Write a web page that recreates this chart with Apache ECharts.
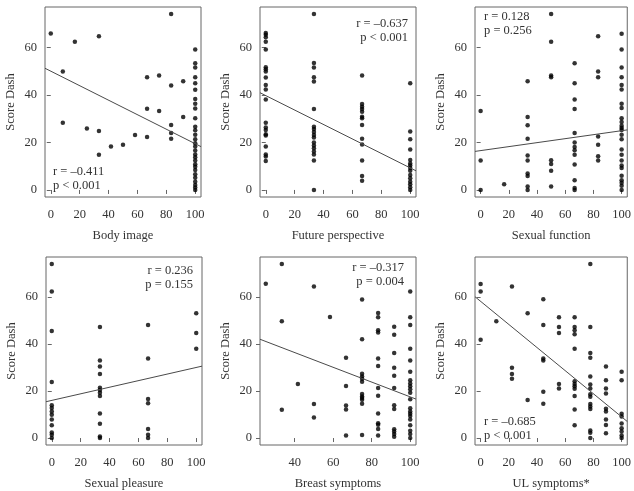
<!DOCTYPE html>
<html>
<head>
<meta charset="utf-8">
<script src="https://cdn.jsdelivr.net/npm/echarts@6/dist/echarts.min.js"></script>
<style>
  html, body { margin: 0; padding: 0; background: #fff; }
  #chart { width: 634px; height: 491px; }
</style>
</head>
<body>
<div id="chart"></div>
<script>
// columns of points: [x, [y values]]
var bodyImage = [
  [0, [66]], [8.33, [50, 28.4]], [16.67, [62.5]], [25, [25.9]],
  [33.33, [64.8, 24.9, 14.9]], [41.67, [18.3]], [50, [19.1]], [58.33, [23.2]],
  [66.67, [47.5, 34.3, 22.3]], [75, [48.3, 33.3]],
  [83.33, [74.2, 44.1, 27.4, 24.0, 21.6]], [91.67, [45.9, 30.8]],
  [100, [59.2, 53.4, 51.6, 47.5, 45, 42.3, 38.4, 36.4, 34.4, 30.2, 26.7, 25.2, 23.3, 21.4, 19.7, 18.3, 16.6, 15.0, 13.8, 12.4, 10.8, 9.8, 8.4, 6.6, 5.2, 3.5, 2.1, 1, 0]]
];
var futurePerspective = [
  [0, [66.2, 65.5, 64.4, 62.5, 59.2, 51.8, 50.9, 50.0, 47.4, 44.3, 42.4, 38.2, 28.4, 26.3, 25.3, 23.5, 23.0, 18.3, 15.0, 14.1, 12.2]],
  [33.33, [74.2, 53.5, 51.6, 47.5, 45.7, 34.1, 26.7, 25.7, 24.4, 23.2, 22.1, 20.0, 18.8, 17.6, 16.2, 15.0, 12.4, 0]],
  [66.67, [48.3, 36.3, 35.1, 34.1, 33.0, 30.9, 30.2, 27.4, 21.6, 19.2, 12.4, 5.9, 3.9]],
  [100, [45.0, 24.7, 21.4, 17.1, 12.6, 11.2, 10.3, 9.3, 8.1, 6.3, 4.9, 3.5, 2.4, 1.1, 0]]
];
var sexualFunction = [
  [0, [33.3, 12.4, 0]], [16.67, [2.4]],
  [33.33, [45.8, 30.8, 27.3, 21.6, 14.5, 12.4, 6.9, 5.9, 1.5, 0]],
  [50, [74.2, 62.5, 48.3, 47.5, 12.5, 11.0, 8.1, 1.5]],
  [66.67, [53.4, 45.0, 38.2, 34.1, 24.0, 20.0, 18.1, 16.7, 14.9, 10.7, 4.1, 0.8, 0]],
  [83.33, [64.8, 50.0, 47.5, 22.5, 19.1, 14.2, 12.4]],
  [100, [65.9, 59.2, 51.6, 47.5, 44.3, 42.4, 36.4, 34.6, 30.2, 28.7, 27.1, 26.1, 25.3, 23.3, 21.4, 17.1, 14.9, 12.4, 10.3, 9.3, 6.0, 4.1, 3.0, 1.8, 0]]
];
var sexualPleasure = [
  [0, [74, 62.3, 45.5, 23.8, 13.9, 12.8, 11.3, 9.9, 7.9, 5.4, 2.4, 1.4, 0]],
  [33.33, [47.2, 33, 30.4, 27.2, 21.4, 20.4, 19.3, 17.9, 10.4, 6.1, 0.7, 0]],
  [66.67, [48.0, 33.8, 16.6, 14.8, 3.8, 1.4, 0]],
  [100, [53.0, 44.6, 38.0]]
];
var breastSymptoms = [
  [25, [65.6]], [33.33, [74, 49.7, 12.0]], [41.67, [23.0]], [50, [64.4, 14.5, 8.7]],
  [58.33, [51.5]], [66.67, [34.1, 22.1, 13.8, 12.1, 1.1]],
  [75, [58.9, 42.0, 27.3, 26.2, 25.2, 23.9, 18.7, 17.7, 17.0, 16.3, 14.6, 1.3]],
  [83.33, [53.2, 51.4, 45.8, 44.9, 33.8, 30.6, 21.3, 18.0, 10.4, 6.3, 5.6, 3.8, 1.1]],
  [91.67, [47.3, 43.9, 36.1, 29.9, 26.5, 21.3, 13.9, 12.3, 3.7, 2.8, 1.7, 0.6]],
  [100, [62.3, 51.4, 48.0, 38.0, 33.0, 28.2, 24.6, 23.2, 22.0, 20.7, 19.3, 16.5, 12.7, 11.3, 10.3, 9.4, 7.9, 5.4, 3.1, 1.7, 0]]
];
var ulSymptoms = [
  [0, [65.5, 62.3, 41.8]], [11.11, [49.7]], [22.22, [64.4, 29.9, 27.2, 25.2]],
  [33.33, [53.1, 16.2]], [44.44, [59.0, 48.0, 33.8, 33.0, 19.7, 14.6]],
  [55.56, [51.4, 47.2, 44.6, 23.0, 21.1]],
  [66.67, [51.4, 47.2, 45.8, 44.1, 38.0, 24.1, 23.0, 22.0, 21.0, 17.9, 12.1, 5.4]],
  [77.78, [74.0, 47.2, 36.1, 34.1, 26.2, 22.8, 21.1, 18.6, 17.5, 14.5, 13.4, 12.3, 3.2, 2.3, 0]],
  [88.89, [30.4, 24.6, 21.1, 18.9, 12.4, 11.3, 7.9, 5.5, 2.0]],
  [100, [28.2, 24.6, 10.3, 9.2, 6.2, 4.2, 2.8, 1.1, 0]]
];

var panels = [bodyImage, futurePerspective, sexualFunction, sexualPleasure, breastSymptoms, ulSymptoms];
var xNames = ['Body image', 'Future perspective', 'Sexual function', 'Sexual pleasure', 'Breast symptoms', 'UL symptoms*'];
var rLabels = ['r = \u20130.411', 'r = \u20130.637', 'r = 0.128', 'r = 0.236', 'r = \u20130.317', 'r = \u20130.685'];
var pLabels = ['p < 0.001', 'p < 0.001', 'p = 0.256', 'p = 0.155', 'p = 0.004', 'p < 0.001'];
var fitIntercept = [50.1, 39.8, 16.6, 16.0, 48.9, 58.1];
var fitSlope = [-0.306, -0.305, 0.084, 0.140, -0.314, -0.491];
var xTicks = [[0, 20, 40, 60, 80, 100], [0, 20, 40, 60, 80, 100], [0, 20, 40, 60, 80, 100],
              [0, 20, 40, 60, 80, 100], [40, 60, 80, 100], [0, 20, 40, 60, 80, 100]];
var yTicks = [0, 20, 40, 60];

var chart = echarts.init(document.getElementById('chart'));
var font = 'Liberation Serif';
var textColor = '#333';
var boxColor = '#666';

// layout: grid boxes in pixels, and where the r/p text goes
var gridPos = [
  { left: 45, top: 7 }, { left: 260, top: 7 }, { left: 475, top: 7 },
  { left: 46, top: 257 }, { left: 260, top: 257 }, { left: 475, top: 257 }
];
var statPos = [
  { x: 53, y: 172, align: 'left' }, { x: 408, y: 24, align: 'right' }, { x: 484, y: 17, align: 'left' },
  { x: 193, y: 271, align: 'right' }, { x: 404, y: 268, align: 'right' }, { x: 484, y: 422, align: 'left' }
];

var grids = [], xAxes = [], yAxes = [], series = [], graphics = [];

panels.forEach(function (cols, i) {
  var pts = [];
  cols.forEach(function (c) {
    c[1].forEach(function (y) { pts.push([c[0], y]); });
  });
  var xs = pts.map(function (p) { return p[0]; });
  var ys = pts.map(function (p) { return p[1]; });
  var xmin = Math.min.apply(null, xs), xmax = Math.max.apply(null, xs);
  var ymin = Math.min.apply(null, ys), ymax = Math.max.apply(null, ys);
  var xe = (xmax - xmin) * 0.04, ye = (ymax - ymin) * 0.04;
  var x0 = xmin - xe, x1 = xmax + xe;

  grids.push({
    left: gridPos[i].left, top: gridPos[i].top, width: 156, height: 190,
    show: true, borderColor: boxColor, borderWidth: 1, backgroundColor: 'transparent'
  });
  xAxes.push({
    type: 'value', gridIndex: i, min: x0, max: x1,
    name: xNames[i], nameLocation: 'middle', nameGap: 32,
    nameTextStyle: { fontFamily: font, fontSize: 12.5, color: textColor },
    axisLine: { show: false },
    axisTick: { show: true, length: 4, lineStyle: { color: boxColor }, customValues: xTicks[i] },
    axisLabel: { fontFamily: font, fontSize: 12.5, color: textColor, margin: 11, customValues: xTicks[i] },
    splitLine: { show: false }
  });
  yAxes.push({
    type: 'value', gridIndex: i, min: ymin - ye, max: ymax + ye,
    name: 'Score Dash', nameLocation: 'middle', nameGap: 28, nameRotate: 90,
    nameTextStyle: { fontFamily: font, fontSize: 12.5, color: textColor },
    axisLine: { show: false },
    axisTick: { show: true, length: 4, lineStyle: { color: boxColor }, customValues: yTicks },
    axisLabel: { fontFamily: font, fontSize: 12.5, color: textColor, margin: 8, customValues: yTicks },
    splitLine: { show: false }
  });
  series.push({
    type: 'scatter', xAxisIndex: i, yAxisIndex: i, data: pts,
    symbolSize: 4.5, itemStyle: { color: '#000' }, silent: true
  });
  series.push({
    type: 'line', xAxisIndex: i, yAxisIndex: i, symbol: 'none', silent: true,
    data: [[x0, fitIntercept[i] + fitSlope[i] * x0], [x1, fitIntercept[i] + fitSlope[i] * x1]],
    lineStyle: { color: '#4a4a4a', width: 1 }
  });
  [rLabels[i], pLabels[i]].forEach(function (t, k) {
    graphics.push({
      type: 'text', x: statPos[i].x, y: statPos[i].y + k * 14,
      style: {
        text: t, fill: textColor, font: '12.5px "Liberation Serif"',
        textAlign: statPos[i].align, textVerticalAlign: 'middle'
      }
    });
  });
});

chart.setOption({
  backgroundColor: '#fff',
  animation: false,
  grid: grids,
  xAxis: xAxes,
  yAxis: yAxes,
  series: series,
  graphic: graphics
});
</script>
</body>
</html>
